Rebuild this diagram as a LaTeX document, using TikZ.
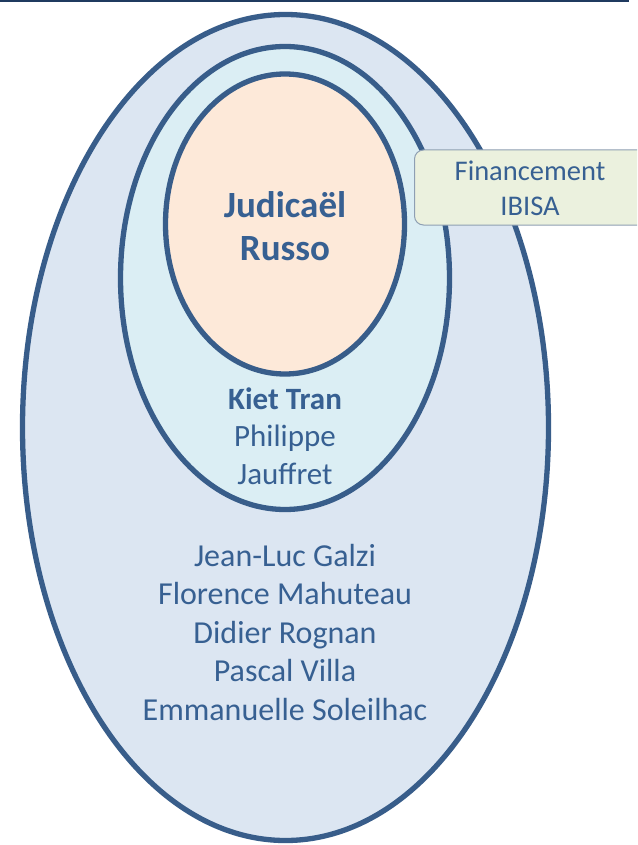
\documentclass[tikz,border=0pt]{standalone}
\usepackage{fontspec}
\setmainfont{Carlito}
\usetikzlibrary{shapes.geometric}
\definecolor{edge}{HTML}{385D8A}
\definecolor{txt}{HTML}{376092}
\definecolor{outerfill}{HTML}{DCE6F2}
\definecolor{midfill}{HTML}{DBEEF4}
\definecolor{innerfill}{HTML}{FDE9D9}
\definecolor{boxfill}{HTML}{EBF1DE}
\definecolor{boxedge}{HTML}{8E9FB3}
\definecolor{topline}{HTML}{1F3A5F}
\tikzset{
  ring/.style={ellipse, draw=edge, line width=5.3pt, inner sep=0pt},
  names/.style={text=txt, align=center, font=\fontsize{32}{38.5}\selectfont},
  boxstyle/.style={draw=boxedge, line width=1pt, fill=boxfill, rounded corners=9pt, minimum width=240pt, minimum height=75pt, anchor=west, inner sep=0pt}
}
\begin{document}
\begin{tikzpicture}[x=1pt,y=-1pt]
\useasboundingbox (0,0) rectangle (637,845);
\fill[white] (0,0) rectangle (637,845);
\draw[topline, line width=2.5pt] (0,1) -- (629,1);
\node[ring, fill=outerfill, minimum width=526pt, minimum height=826pt] (outer) at (285.5,427.5) {};
\node[ring, fill=midfill, minimum width=329pt, minimum height=463pt] (middle) at (285,278) {};
\node[ring, fill=innerfill, minimum width=239pt, minimum height=300pt] (inner) at (285,224) {};
\begin{scope}
\clip (0,0) rectangle (637,845);
\node[boxstyle] (fin) at (414,187.5) {};
\end{scope}
\node[names, font=\fontsize{28.5}{35}\selectfont] (fintext) at (530,188) {Financement\\IBISA};
\node[names, font=\bfseries\fontsize{37}{43}\selectfont] (jr) at (285,226.5) {Judicaël\\Russo};
\node[names, font=\fontsize{31}{37.5}\selectfont] (mid) at (285,436) {\textbf{Kiet Tran}\\Philippe\\Jauffret};
\node[names] (team) at (285,632) {Jean-Luc Galzi\\Florence Mahuteau\\Didier Rognan\\Pascal Villa\\Emmanuelle Soleilhac};
\end{tikzpicture}
\end{document}
